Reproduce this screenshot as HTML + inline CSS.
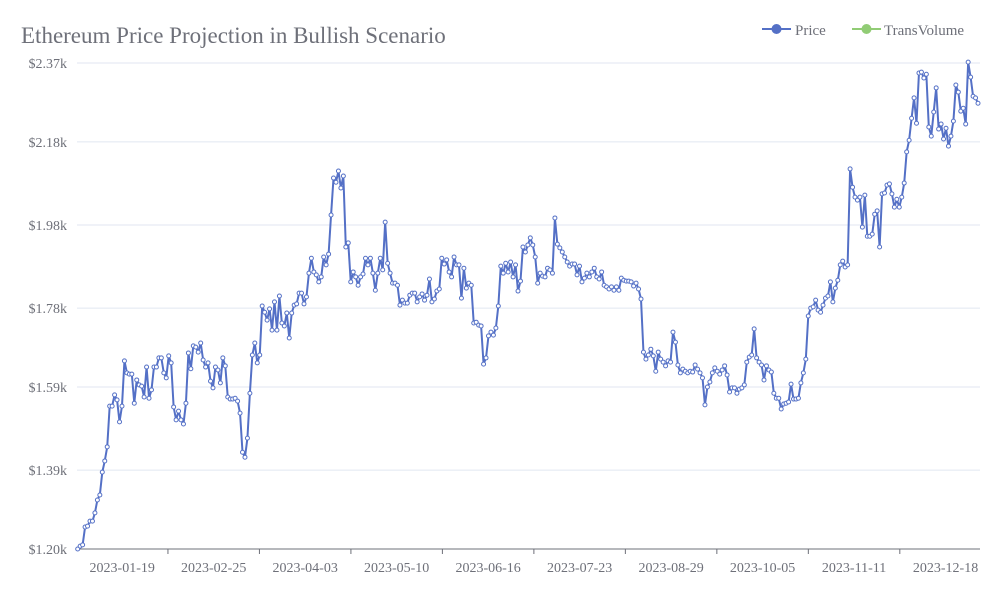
<!DOCTYPE html>
<html><head><meta charset="utf-8"><style>
html,body{margin:0;padding:0;background:#fff;width:1000px;height:600px;overflow:hidden}
svg{display:block}
text{font-family:"Liberation Serif","DejaVu Serif",serif}
</style></head><body>
<svg id="chart" width="1000" height="600" xmlns="http://www.w3.org/2000/svg">
<text x="21" y="43" font-size="23" fill="#6e7079">Ethereum Price Projection in Bullish Scenario</text>
<g>
<line x1="762" y1="29" x2="791" y2="29" stroke="#5470c6" stroke-width="2"/>
<circle cx="776.5" cy="29" r="5" fill="#5470c6"/>
<text x="795" y="35" font-size="15" fill="#6e7079">Price</text>
</g>
<g>
<line x1="852" y1="29" x2="881" y2="29" stroke="#91cc75" stroke-width="2"/>
<circle cx="866.5" cy="29" r="5" fill="#91cc75"/>
<text x="884" y="35" font-size="15" fill="#6e7079">TransVolume</text>
</g>
<g id="grid"></g><g id="axes"></g><g id="series"></g>
</svg>
<script>
const yTicks = [1.20, 1.39, 1.59, 1.78, 1.98, 2.18, 2.37];
const yTickLabels = ["$1.20k","$1.39k","$1.59k","$1.78k","$1.98k","$2.18k","$2.37k"];
const xLabels = ["2023-01-19","2023-02-25","2023-04-03","2023-05-10","2023-06-16","2023-07-23","2023-08-29","2023-10-05","2023-11-11","2023-12-18"];
const xLabelDays = [18,55,92,129,166,203,240,277,314,351];
const prices = [
1.200,1.207,1.210,1.253,1.255,1.267,1.267,1.287,1.318,1.330,1.385,1.412,1.446,1.544,1.544,1.571,1.559,1.506,1.544,1.653,
1.624,1.621,1.621,1.551,1.607,1.595,1.592,1.566,1.638,1.563,1.583,1.638,1.638,1.660,1.660,1.624,1.612,1.665,1.648,1.542,
1.511,1.532,1.511,1.501,1.551,1.672,1.634,1.689,1.686,1.674,1.696,1.655,1.638,1.648,1.604,1.588,1.638,1.631,1.600,1.660,
1.641,1.566,1.561,1.561,1.563,1.556,1.527,1.433,1.421,1.467,1.575,1.667,1.696,1.648,1.667,1.785,1.770,1.751,1.778,1.727,
1.795,1.727,1.809,1.744,1.737,1.768,1.708,1.768,1.787,1.790,1.816,1.816,1.790,
1.807,1.864,1.900,1.867,1.860,1.843,1.855,1.903,1.884,1.910,2.004,2.093,2.083,2.110,2.069,2.098,1.927,1.937,1.843,1.867,
1.855,1.835,1.855,1.862,1.900,1.884,1.900,1.864,1.823,1.864,1.900,1.872,1.987,1.888,1.864,1.840,1.840,1.835,1.787,1.799,
1.792,1.792,1.811,1.816,1.816,1.795,1.807,1.814,1.799,1.811,1.850,1.795,1.802,1.821,1.826,1.900,1.886,1.896,1.867,1.855,
1.903,1.884,1.884,1.804,1.876,1.828,1.840,1.835,1.744,1.746,1.739,1.737,1.645,1.660,1.713,1.722,1.715,1.732,1.785,1.881,
1.864,1.888,1.867,1.891,1.855,1.884,1.821,1.845,1.927,
1.915,1.932,1.949,1.932,1.903,1.840,1.864,1.857,1.855,1.876,1.872,1.864,1.997,1.934,1.925,1.915,1.903,1.891,1.881,1.886,
1.886,1.860,1.881,1.843,1.852,1.864,1.855,1.867,1.876,1.855,1.850,1.867,1.835,1.831,1.826,1.831,1.823,1.831,1.823,1.852,
1.847,1.845,1.845,1.843,1.833,1.840,1.826,1.802,1.674,1.657,1.667,1.681,1.665,1.628,1.674,1.657,1.650,1.641,1.653,1.650,
1.722,1.698,1.643,1.624,1.633,1.628,1.624,1.628,1.626,1.643,1.633,1.624,1.612,1.547,1.590,1.602,1.624,1.636,1.628,1.621,
1.631,1.641,1.619,1.578,1.588,1.588,1.575,1.585,1.588,1.595,1.650,
1.662,1.667,1.730,1.660,1.650,1.643,1.607,1.641,1.631,1.626,1.575,1.563,1.563,1.537,1.549,1.551,1.554,1.597,1.561,1.561,
1.563,1.600,1.624,1.657,1.761,1.780,1.783,1.799,1.775,1.770,1.787,1.804,1.809,1.843,1.795,1.828,1.847,1.884,1.893,1.879,
1.884,2.115,2.071,2.047,2.040,2.047,1.975,2.052,1.953,1.953,1.958,2.006,2.014,1.927,2.055,2.057,2.076,2.079,2.055,2.023,
2.042,2.023,2.047,2.081,2.156,2.184,2.237,2.286,2.225,2.346,2.348,2.334,2.343,2.216,2.194,2.252,2.310,2.211,2.223,2.187,
2.213,2.170,2.194,2.230,2.317,2.300,2.254,2.261,2.223,2.372,2.336,2.290,2.286,2.273
];
const NS='http://www.w3.org/2000/svg';
const L=77.7,R=978,T=63,B=549,yMin=1.20,yMax=2.37,DAYS=365;
function yS(v){return B-(v-yMin)/(yMax-yMin)*(B-T);}
function xDay(d){return L+d*(900/(DAYS-1));}
function xIdx(i){return L+i*((R-L)/(prices.length-1));}
function mk(tag,attrs,parent){const e=document.createElementNS(NS,tag);for(const k in attrs)e.setAttribute(k,attrs[k]);parent.appendChild(e);return e;}
const grid=document.getElementById('grid'),axes=document.getElementById('axes'),series=document.getElementById('series');
yTicks.forEach((t,i)=>{
  const y=yS(t);
  if(i>0){const g=mk('line',{x1:77,x2:980,y1:y,y2:y,stroke:'#e0e6f1','stroke-width':1},grid);
  
  }
  const tx=mk('text',{x:67,y:y+5,'text-anchor':'end','font-size':14,fill:'#6e7079'},axes);
  tx.textContent=yTickLabels[i];
  
  
});
const ax=mk('line',{x1:77,x2:980,y1:B,y2:B,stroke:'#6e7079','stroke-width':1},axes);


xLabelDays.forEach((d,i)=>{
  const x=xDay(d);
  const tx=mk('text',{x:x,y:572,'text-anchor':'middle','font-size':14,fill:'#6e7079'},axes);
  tx.textContent=xLabels[i];
  
  
  const tkx=xDay(d+18.5);
  if(tkx<=980){
    const tk=mk('line',{x1:tkx,x2:tkx,y1:B,y2:B+5,stroke:'#6e7079'},axes);
    
    
  }
});
let dstr='';
prices.forEach((v,i)=>{dstr+=(i?'L':'M')+xIdx(i).toFixed(2)+','+yS(v).toFixed(2);});
const path=mk('path',{d:dstr,fill:'none',stroke:'#5470c6','stroke-width':2,'stroke-linejoin':'round'},series);


prices.forEach((v,i)=>{
  const c=mk('circle',{cx:xIdx(i),cy:yS(v),r:2,fill:'#fff',stroke:'#5470c6','stroke-width':1},series);
  
  
});
</script>
</body></html>
